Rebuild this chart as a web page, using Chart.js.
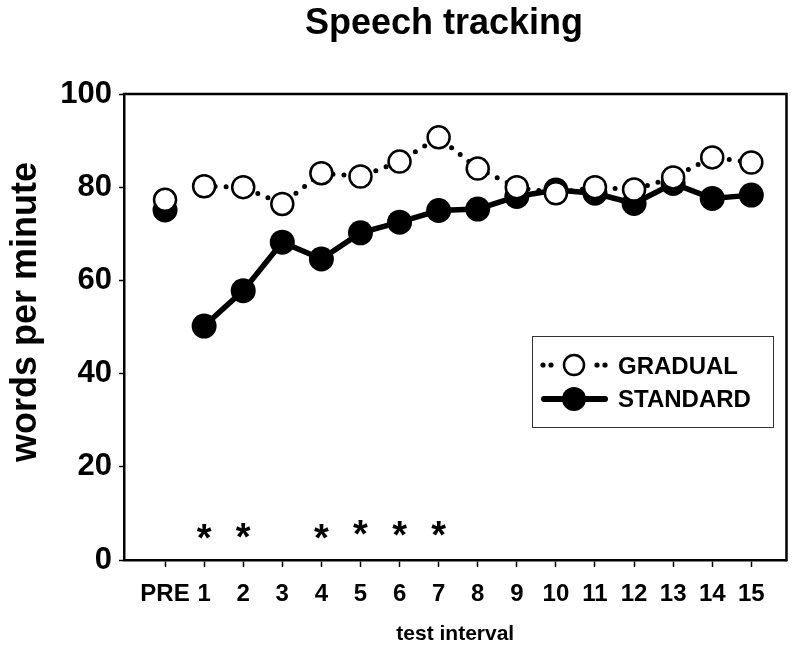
<!DOCTYPE html>
<html>
<head>
<meta charset="utf-8">
<script src="https://cdn.jsdelivr.net/npm/chart.js@4"></script>
<style>
  html, body { margin: 0; padding: 0; background: #fff; }
  #wrap { width: 800px; height: 654px; }
</style>
</head>
<body>
<div id="wrap"><canvas id="c" width="800" height="654"></canvas></div>
<script>
// ---- data ----
const CATEGORIES = ['PRE', '1', '2', '3', '4', '5', '6', '7', '8', '9', '10', '11', '12', '13', '14', '15'];
const GRADUAL = [77.3, 80.2, 80.0, 76.4, 83.0, 82.3, 85.5, 90.7, 84.0, 80.0, 78.7, 80.0, 79.5, 82.1, 86.4, 85.3];
const STANDARD = [75.1, 50.2, 57.8, 68.2, 64.6, 70.2, 72.5, 75.0, 75.3, 78.0, 79.4, 78.7, 76.5, 80.8, 77.6, 78.3];
const Y_TICKS = [0, 20, 40, 60, 80, 100];
const ASTERISK_AT = [1, 2, 4, 5, 6, 7];
const ASTERISK_LEVEL = [6.6, 6.9, 6.6, 7.4, 7.2, 7.2];
const SERIES_NAMES = ['GRADUAL', 'STANDARD'];
const TITLE = 'Speech tracking';
const Y_TITLE = 'words per minute';
const X_TITLE = 'test interval';

const FONT = '"Liberation Sans", Arial, Helvetica, sans-serif';
Chart.defaults.font.family = FONT;
Chart.defaults.color = '#000';

const toXY = arr => arr.map((v, i) => ({ x: i, y: v }));
// PRE is a separate baseline measure: no line joins it to interval 1
const skipPre = color => ctx => (ctx.p0DataIndex === 0 ? 'rgba(0,0,0,0)' : color);

// frame (top and right edges), titles, asterisks, legend
const extras = {
  id: 'extras',
  afterDraw(chart) {
    const { ctx, chartArea: a, scales } = chart;
    ctx.save();
    // top + right frame
    ctx.strokeStyle = '#000';
    ctx.lineWidth = 2.5;
    ctx.beginPath();
    ctx.moveTo(a.left - 1.25, a.top);
    ctx.lineTo(a.right, a.top);
    ctx.lineTo(a.right, a.bottom + 1.25);
    ctx.stroke();

    // chart title
    ctx.fillStyle = '#000';
    ctx.font = 'bold 36px ' + FONT;
    ctx.textAlign = 'center';
    ctx.textBaseline = 'alphabetic';
    ctx.fillText(TITLE, 444, 34);

    // asterisks
    const fs = 38;
    ctx.font = 'bold ' + fs + 'px ' + FONT;
    ASTERISK_AT.forEach((idx, k) => {
      const x = scales.x.getPixelForValue(idx);
      const y = scales.y.getPixelForValue(ASTERISK_LEVEL[k]);
      ctx.fillText('*', x, y + 0.57 * fs);
    });

    // y axis title
    ctx.save();
    ctx.font = 'bold 36px ' + FONT;
    ctx.translate(36, 312);
    ctx.rotate(-Math.PI / 2);
    ctx.textAlign = 'center';
    ctx.textBaseline = 'alphabetic';
    ctx.fillText(Y_TITLE, 0, 0);
    ctx.restore();

    // legend
    const bx = 532, by = 336, bw = 241, bh = 91;
    ctx.fillStyle = '#fff';
    ctx.fillRect(bx, by, bw, bh);
    ctx.strokeStyle = '#333';
    ctx.lineWidth = 1;
    ctx.strokeRect(bx + 0.5, by + 0.5, bw, bh);

    const sx = 574;
    const y1 = 365, y2 = 399;
    // gradual sample
    ctx.fillStyle = '#000';
    [543, 551, 597, 605].forEach(px => {
      ctx.beginPath(); ctx.arc(px, y1, 2.6, 0, Math.PI * 2); ctx.fill();
    });
    ctx.beginPath(); ctx.arc(sx, y1, 10, 0, Math.PI * 2);
    ctx.fillStyle = '#fff'; ctx.fill();
    ctx.lineWidth = 2.5; ctx.strokeStyle = '#000'; ctx.stroke();
    // standard sample
    ctx.lineWidth = 6; ctx.lineCap = 'round';
    ctx.beginPath(); ctx.moveTo(544, y2); ctx.lineTo(605, y2); ctx.stroke();
    ctx.beginPath(); ctx.arc(sx, y2, 12, 0, Math.PI * 2);
    ctx.fillStyle = '#000'; ctx.fill();

    ctx.font = 'bold 24px ' + FONT;
    ctx.textAlign = 'left';
    ctx.fillText(SERIES_NAMES[0], 618, 374);
    ctx.fillText(SERIES_NAMES[1], 618, 407);
    ctx.restore();
  }
};

new Chart(document.getElementById('c'), {
  type: 'line',
  data: {
    datasets: [
      {
        label: SERIES_NAMES[0],
        data: toXY(GRADUAL),
        borderColor: '#000',
        borderWidth: 5,
        borderDash: [0, 11],
        borderCapStyle: 'round',
        segment: { borderColor: skipPre('#000') },
        pointRadius: 11,
        pointBorderWidth: 2.5,
        pointBorderColor: '#000',
        pointBackgroundColor: '#fff',
        tension: 0
      },
      {
        label: SERIES_NAMES[1],
        data: toXY(STANDARD),
        borderColor: '#000',
        borderWidth: 5.5,
        segment: { borderColor: skipPre('#000') },
        pointRadius: 12.5,
        pointBorderWidth: 0,
        pointBackgroundColor: '#000',
        pointBorderColor: '#000',
        tension: 0
      }
    ]
  },
  options: {
    responsive: false,
    animation: false,
    devicePixelRatio: 1,
    layout: { padding: { left: 0, right: 10, top: 94, bottom: 0 } },
    plugins: {
      legend: { display: false },
      tooltip: { enabled: false },
      title: { display: false }
    },
    scales: {
      x: {
        type: 'linear',
        min: -1.05,
        max: 15.9,
        afterBuildTicks: s => { s.ticks = CATEGORIES.map((_, i) => ({ value: i })); },
        afterFit: s => { s.height = 94; },
        ticks: {
          autoSkip: false,
          maxRotation: 0,
          padding: 13,
          color: '#000',
          font: { size: 24, weight: 'bold', lineHeight: 1.2 },
          callback: v => CATEGORIES[v]
        },
        grid: { drawOnChartArea: false, drawTicks: true, tickLength: 7, tickColor: '#000', tickWidth: 1.5, color: '#000' },
        border: { display: true, color: '#000', width: 2.5 },
        title: {
          display: true,
          text: X_TITLE,
          color: '#000',
          font: { size: 21, weight: 'bold', lineHeight: 1.2 },
          padding: { top: 0, bottom: 7 }
        }
      },
      y: {
        min: 0,
        max: 100,
        afterBuildTicks: s => { s.ticks = Y_TICKS.map(v => ({ value: v })); },
        afterFit: s => { s.width = 124; },
        ticks: {
          padding: 7,
          color: '#000',
          font: { size: 31, weight: 'bold', lineHeight: 1.2 }
        },
        grid: { drawOnChartArea: false, drawTicks: true, tickLength: 5, tickColor: '#000', tickWidth: 1.5, color: '#000' },
        border: { display: true, color: '#000', width: 2.5 }
      }
    }
  },
  plugins: [extras]
});
</script>
</body>
</html>
